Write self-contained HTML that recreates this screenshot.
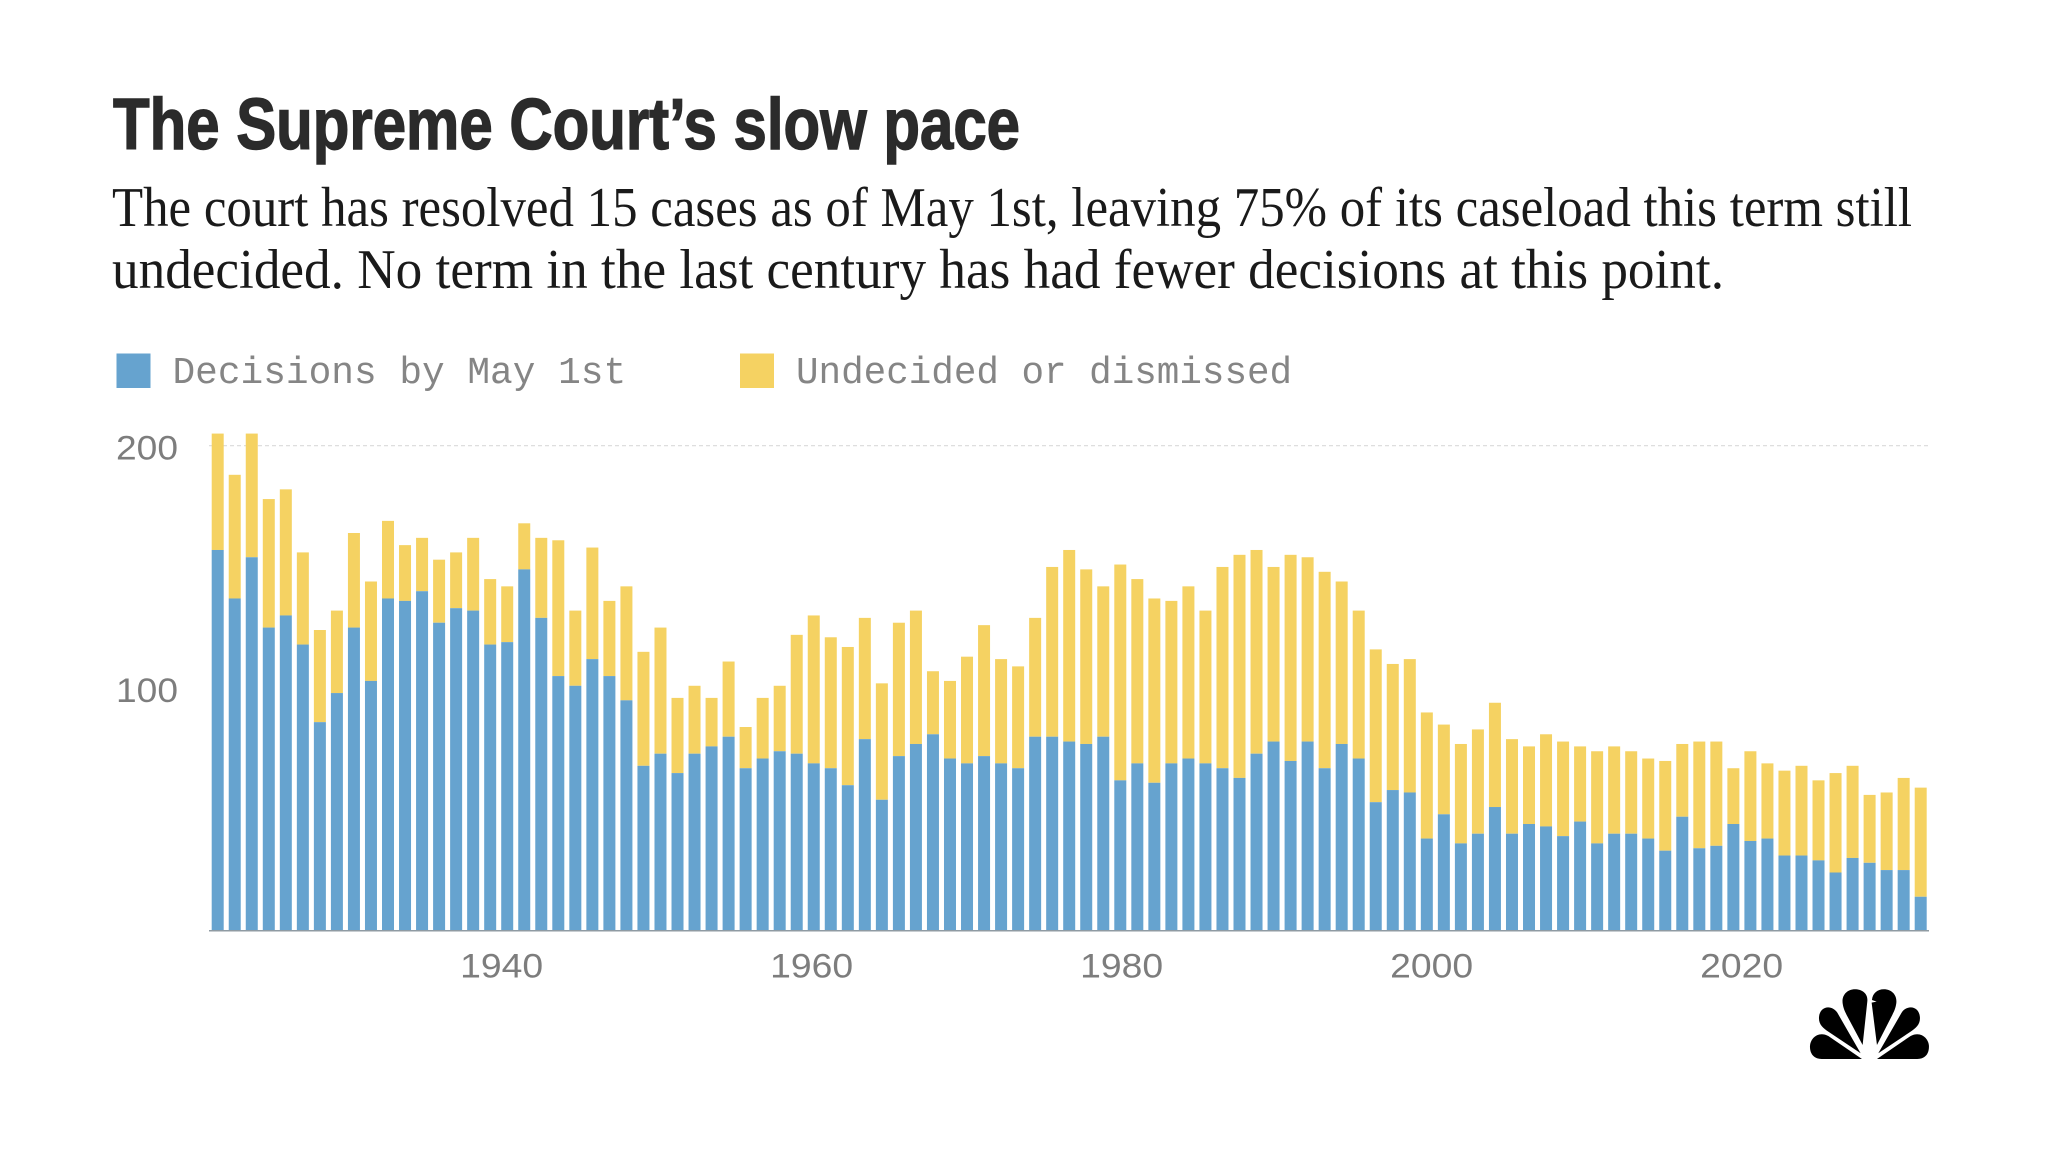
<!DOCTYPE html>
<html lang="en">
<head>
<meta charset="utf-8">
<title>The Supreme Court's slow pace</title>
<style>
html,body{margin:0;padding:0;background:#fff;width:2048px;height:1152px;overflow:hidden}
svg{display:block}
.sans{font-family:"Liberation Sans",sans-serif}
.serif{font-family:"Liberation Serif",serif}
.mono{font-family:"Liberation Mono",monospace}
</style>
</head>
<body>
<svg id="chart" xmlns="http://www.w3.org/2000/svg" width="2048" height="1152" viewBox="0 0 2048 1152">
  <text class="sans" x="113" y="149" font-size="72" font-weight="700" fill="#2b2b2b" stroke="#2b2b2b" stroke-width="1.4" textLength="907" lengthAdjust="spacingAndGlyphs">The Supreme Court’s slow pace</text>
  <text class="serif" x="112" y="226" font-size="56" fill="#1a1a1a" textLength="1800" lengthAdjust="spacingAndGlyphs">The court has resolved 15 cases as of May 1st, leaving 75% of its caseload this term still</text>
  <text class="serif" x="112" y="288" font-size="56" fill="#1a1a1a" textLength="1612" lengthAdjust="spacingAndGlyphs">undecided. No term in the last century has had fewer decisions at this point.</text>

  <g>
    <rect x="116.5" y="353.5" width="34" height="34.5" fill="#66a3cf"/>
    <text class="mono" x="172.5" y="383" font-size="37.8" fill="#858585">Decisions by May 1st</text>
    <rect x="740" y="353.5" width="34" height="34.5" fill="#f5d262"/>
    <text class="mono" x="796" y="383" font-size="37.6" fill="#858585">Undecided or dismissed</text>
  </g>

  <g id="grid"></g>
  <g id="bars"></g>
  <g id="axes"></g>

  <g transform="translate(1500 700) scale(0.3333)" fill="#000">
    <path d="M1086 1077 L985 1008 C955 992 930 1015 930 1040 C930 1065 945 1077 965 1077 Z"/>
    <path d="M1082 1060 L1012 938 C995 912 957 918 957 955 C957 975 970 985 985 995 Z"/>
    <path d="M1088 1035 L1102 905 C1105 880 1085 868 1065 868 C1042 868 1025 885 1028 910 C1030 925 1035 935 1040 945 Z"/>
    <path d="M1131 1035 L1115 908 L1130 905 L1116 900 C1118 880 1132 868 1152 868 C1175 868 1192 885 1189 910 C1187 925 1182 935 1177 945 Z"/>
    <path d="M1135 1060 L1205 938 C1222 912 1260 918 1260 955 C1260 975 1247 985 1232 995 Z"/>
    <path d="M1131 1077 L1232 1008 C1262 992 1287 1015 1287 1040 C1287 1065 1272 1077 1252 1077 Z"/>
  </g>
</svg>

<script>
// Chart data
const terms = [1923,1924,1925,1926,1927,1928,1929,1930,1931,1932,1933,1934,1935,1936,1937,1938,1939,1940,1941,1942,1943,1944,1945,1946,1947,1948,1949,1950,1951,1952,1953,1954,1955,1956,1957,1958,1959,1960,1961,1962,1963,1964,1965,1966,1967,1968,1969,1970,1971,1972,1973,1974,1975,1976,1977,1978,1979,1980,1981,1982,1983,1984,1985,1986,1987,1988,1989,1990,1991,1992,1993,1994,1995,1996,1997,1998,1999,2000,2001,2002,2003,2004,2005,2006,2007,2008,2009,2010,2011,2012,2013,2014,2015,2016,2017,2018,2019,2020,2021,2022,2023];
const decisions = [157,137,154,125,130,118,86,98,125,103,137,136,140,127,133,132,118,119,149,129,105,101,112,105,95,68,73,65,73,76,80,67,71,74,73,69,67,60,79,54,72,77,81,71,69,72,69,67,80,80,78,77,80,62,69,61,69,71,69,67,63,73,78,70,78,67,77,71,53,58,57,38,48,36,40,51,40,44,43,39,45,36,40,40,38,33,47,34,35,44,37,38,31,31,29,24,30,28,25,25,14];
const undecided = [48,51,51,53,52,38,38,34,39,41,32,23,22,26,23,30,27,23,19,33,56,31,46,31,47,47,52,31,28,20,31,17,25,27,49,61,54,57,50,48,55,55,26,32,44,54,43,42,49,70,79,72,62,89,76,76,67,71,63,83,92,84,72,85,76,81,67,61,63,52,55,52,37,41,43,43,39,32,38,39,31,38,36,34,33,37,30,44,43,23,37,31,35,37,33,41,38,28,32,38,45];
const yTicks = [100, 200];
const xTicks = [1940, 1960, 1980, 2000, 2020];

const SVG_NS = 'http://www.w3.org/2000/svg';
const PLOT = {left: 209, right: 1929, base: 930.7, perUnit: 2.425, firstBar: 211.7, pitch: 17.03, barW: 12, gridRight: 1930};

function yScale(v) { return PLOT.base - v * PLOT.perUnit; }
function xBand(i) { return PLOT.firstBar + i * PLOT.pitch; }
function xTickPos(year) { return 501.7 + (year - 1940) * 15.5; }

function make(tag, attrs, parent) {
  const el = document.createElementNS(SVG_NS, tag);
  for (const k in attrs) el.setAttribute(k, attrs[k]);
  parent.appendChild(el);
  return el;
}

const gridG = document.getElementById('grid');
const barsG = document.getElementById('bars');
const axesG = document.getElementById('axes');

yTicks.forEach(function (t) {
  if (t === 200) {
    const line = make('line', {x1: PLOT.left, x2: PLOT.gridRight, y1: yScale(t), y2: yScale(t), stroke: '#d9d9d9', 'stroke-width': 1.2, 'stroke-dasharray': '4 3'}, gridG);
    
    
  }
  const label = make('text', {x: 116, y: yScale(t) + 14, 'font-size': 34, fill: '#7d7d7d', class: 'sans', textLength: 62, lengthAdjust: 'spacingAndGlyphs'}, axesG);
  
  
  label.textContent = String(t);
});

terms.forEach(function (term, i) {
  const x = xBand(i);
  const d = decisions[i];
  const u = undecided[i];
  const top = make('rect', {x: x, y: yScale(d + u), width: PLOT.barW, height: u * PLOT.perUnit, fill: '#f5d262'}, barsG);
  
  
  const bottom = make('rect', {x: x, y: yScale(d), width: PLOT.barW, height: d * PLOT.perUnit, fill: '#66a3cf'}, barsG);
  
  
});

const baseLine = make('line', {x1: PLOT.left, x2: PLOT.right, y1: PLOT.base, y2: PLOT.base, stroke: '#8f9ba3', 'stroke-width': 1.5}, axesG);



xTicks.forEach(function (year) {
  const label = make('text', {x: xTickPos(year), y: 977.5, 'font-size': 34, fill: '#7d7d7d', class: 'sans', 'text-anchor': 'middle', textLength: 83, lengthAdjust: 'spacingAndGlyphs'}, axesG);
  
  
  label.textContent = String(year);
});
</script>
</body>
</html>
